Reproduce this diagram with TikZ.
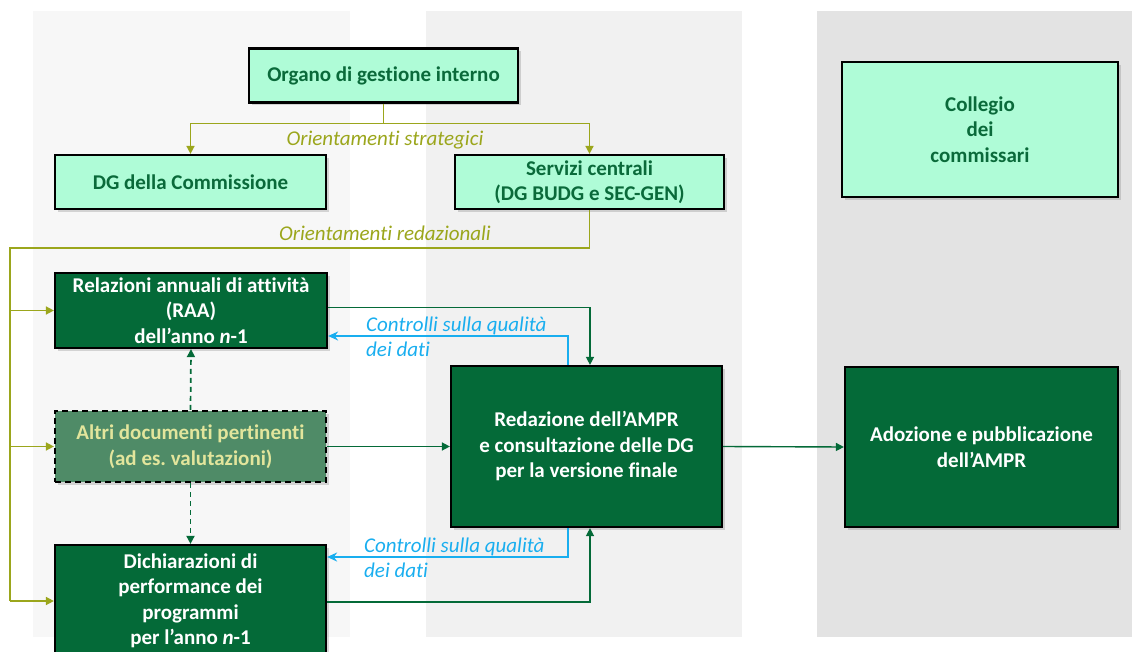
\documentclass[tikz,border=0pt]{standalone}
\usepackage{fontspec}
\setmainfont{Carlito}[Ligatures=TeX,RawFeature={-liga;-clig;-calt;-dlig}]
\usetikzlibrary{arrows.meta,shadows}

\definecolor{dkgreen}{HTML}{046A38}
\definecolor{mint}{HTML}{AFFCD7}
\definecolor{minttext}{HTML}{0A6A3A}
\definecolor{olive}{HTML}{9BA61C}
\definecolor{qblue}{HTML}{19AEEF}
\definecolor{altrifill}{HTML}{4F8B67}
\definecolor{altritext}{HTML}{E2E59C}

\begin{document}
\begin{tikzpicture}[x=1pt,y=-1pt,
	box/.style={draw=black,line width=2.2pt,inner sep=2pt,align=center,
		font=\bfseries\fontsize{21}{25.5}\selectfont,
		drop shadow={opacity=0.3,shadow xshift=3pt,shadow yshift=-3pt}},
	light/.style={box,fill=mint,text=minttext},
	dark/.style={box,fill=dkgreen,text=white},
	other/.style={box,fill=altrifill,text=altritext,dash pattern=on 6pt off 4pt},
	oliveline/.style={draw=olive,line width=1.6pt},
	greenline/.style={draw=dkgreen,line width=1.4pt},
	dashline/.style={draw=dkgreen,line width=1.7pt,dash pattern=on 5pt off 4pt},
	blueline/.style={draw=qblue,line width=2.2pt},
	tri/.style={-{Triangle[length=8pt,width=8pt]}},
	olbl/.style={text=olive,font=\itshape\fontsize{21}{25.5}\selectfont,inner sep=0pt},
	qlbl/.style={text=qblue,font=\itshape\fontsize{21}{25.5}\selectfont,inner sep=0pt,align=left,anchor=west}]
	\useasboundingbox (0,0) rectangle (1132,652);
	% panels
	\fill[gray!6] (33,11) rectangle (350,637);
	\fill[gray!11] (426,11) rectangle (742,637);
	\fill[gray!22] (817,11) rectangle (1132,637);
	% nodes
	\node[light,minimum width=269pt,minimum height=54pt] (org) at (383.5,75.5) {Organo di gestione interno};
	\node[light,minimum width=271pt,minimum height=54pt] (dgc) at (190.5,182) {DG della Commissione};
	\node[light,minimum width=269pt,minimum height=54pt] (serv) at (589.5,182) {Servizi centrali\\(DG BUDG e SEC-GEN)};
	\node[light,minimum width=276pt,minimum height=135pt] (coll) at (980,129.5) {Collegio\\dei\\commissari};
	\node[dark,minimum width=272pt,minimum height=75pt] (raa) at (191,310.5) {Relazioni annuali di attività\\(RAA)\\dell’anno \textit{n}-1};
	\node[other,minimum width=271pt,minimum height=71pt] (altri) at (190.5,446.5) {Altri documenti pertinenti\\(ad es.\ valutazioni)};
	\node[dark,minimum width=271pt,minimum height=112pt] (dich) at (190.5,601) {Dichiarazioni di\\performance dei\\programmi\\per l’anno \textit{n}-1};
	\node[dark,minimum width=271pt,minimum height=161pt] (red) at (586.5,446.5) {Redazione dell’AMPR\\e consultazione delle DG\\per la versione finale};
	\node[dark,minimum width=273pt,minimum height=160pt] (ado) at (981.5,447) {Adozione e pubblicazione\\dell’AMPR};
	% orientamenti
	\draw[oliveline,tri] (org.south) -- ++(0,20) coordinate (os) -| (dgc.north);
	\draw[oliveline,tri] (os) -| (serv.north);
	\node[olbl] (strat) at (385,140) {Orientamenti strategici};
	\coordinate (rl) at (10,248);
	\draw[oliveline] (serv.south) |- (rl) -- (rl |- dich.west);
	\draw[oliveline,tri] (rl |- raa.west) -- (raa.west);
	\draw[oliveline,tri] (rl |- altri.west) -- (altri.west);
	\draw[oliveline,tri] (rl |- dich.west) -- (dich.west);
	\node[olbl] (redaz) at (385,233) {Orientamenti redazionali};
	% verso la redazione
	\draw[greenline,tri] ([yshift=3pt]raa.east) -| ([xshift=3.5pt]red.north);
	\draw[greenline,tri] (altri.east) -- (red.west);
	\draw[greenline,tri] ([yshift=-1pt]dich.east) -| ([xshift=3.5pt]red.south);
	\draw[greenline,tri] (red.east) -- (ado.west);
	\draw[dashline,tri] (altri.north) -- (raa.south);
	\draw[dashline,tri] (altri.south) -- (dich.north);
	% controlli
	\draw[blueline,-{Stealth[length=10pt,width=9pt]}] ([xshift=-18.5pt]red.north) |- ([yshift=-25.5pt]raa.east);
	\draw[blueline,-{Stealth[length=10pt,width=9pt]}] ([xshift=-18.5pt]red.south) |- ([yshift=44pt]dich.east);
	\node[qlbl] (q1) at (366,337) {Controlli sulla qualità\\dei dati};
	\node[qlbl] (q2) at (364,558) {Controlli sulla qualità\\dei dati};
\end{tikzpicture}
\end{document}
